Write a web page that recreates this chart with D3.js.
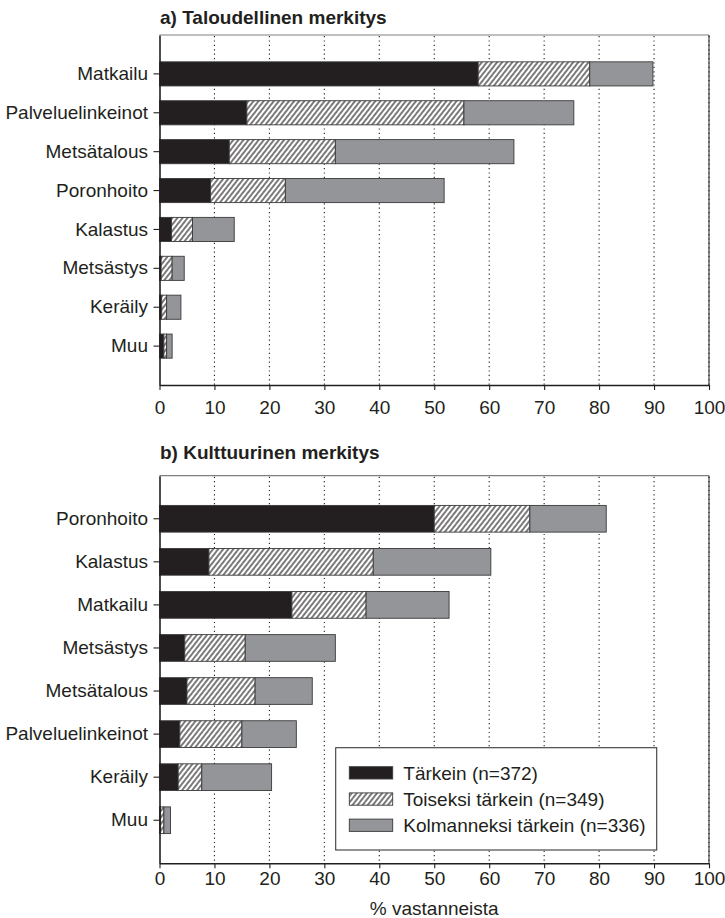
<!DOCTYPE html>
<html>
<head>
<meta charset="utf-8">
<script src="https://cdn.jsdelivr.net/npm/d3@7"></script>
<style>
  html, body { margin: 0; padding: 0; background: #fff; }
  svg { display: block; }
  text { font-family: "Liberation Sans", Arial, sans-serif; fill: #231f20; }
</style>
</head>
<body>
<svg id="chart" width="725" height="918"></svg>
<script>
// ---------- DATA ----------
const titleA = "a) Taloudellinen merkitys";
const titleB = "b) Kulttuurinen merkitys";
const xLabel = "% vastanneista";
const xTicks = [0, 10, 20, 30, 40, 50, 60, 70, 80, 90, 100];
const seriesNames = ["Tärkein (n=372)", "Toiseksi tärkein (n=349)", "Kolmanneksi tärkein (n=336)"];

const catsA = ["Matkailu", "Palveluelinkeinot", "Metsätalous", "Poronhoito", "Kalastus", "Metsästys", "Keräily", "Muu"];
const tarkeinA      = [58.0, 15.9, 12.7,  9.3, 2.2, 0.3, 0.4, 0.8];
const toiseksiA     = [20.3, 39.5, 19.3, 13.6, 3.8, 2.0, 0.9, 0.5];
const kolmanneksiA  = [11.5, 20.0, 32.5, 28.9, 7.6, 2.2, 2.6, 1.0];

const catsB = ["Poronhoito", "Kalastus", "Matkailu", "Metsästys", "Metsätalous", "Palveluelinkeinot", "Keräily", "Muu"];
const tarkeinB      = [50.0,  9.0, 24.1,  4.6,  5.0,  3.7,  3.4, 0.2];
const toiseksiB     = [17.4, 29.9, 13.5, 11.0, 12.4, 11.3,  4.3, 0.6];
const kolmanneksiB  = [13.9, 21.4, 15.1, 16.4, 10.4,  9.9, 12.7, 1.2];

// ---------- DRAW ----------
const svg = d3.select("#chart");
const ink = "#231f20";
const fills = [ink, "url(#hatch)", "#939598"];
const keys = ["t1", "t2", "t3"];
const fs = 19;

const defs = svg.append("defs");
const pat = defs.append("pattern")
  .attr("id", "hatch")
  .attr("patternUnits", "userSpaceOnUse")
  .attr("width", 4).attr("height", 4)
  .attr("patternTransform", "rotate(38)");
pat.append("rect").attr("width", 4).attr("height", 4).attr("fill", "#fff");
pat.append("line").attr("x1", 2).attr("y1", 0).attr("x2", 2).attr("y2", 4)
  .attr("stroke", ink).attr("stroke-width", 1.2);

const left = 159.5, right = 709;
const x = d3.scaleLinear().domain([0, 100]).range([left, right]);

function panel(cats, s1, s2, s3, top, bottom, title, titleY, labelOffset) {
  const g = svg.append("g");
  const pIn = 0.38;
  const y = d3.scaleBand().domain(cats).range([top, bottom])
    .paddingInner(pIn).paddingOuter((1 + pIn) / 2);

  // title
  g.append("text").attr("x", 160).attr("y", titleY)
    .attr("font-size", fs).attr("font-weight", "bold").text(title);

  // frame: top (gray) and right
  g.append("line").attr("x1", left).attr("x2", right).attr("y1", top).attr("y2", top)
    .attr("stroke", "#808080").attr("stroke-width", 1.2);
  g.append("line").attr("x1", right).attr("x2", right).attr("y1", top).attr("y2", bottom)
    .attr("stroke", "#444").attr("stroke-width", 1.2);

  // dotted gridlines
  g.selectAll("line.grid").data(xTicks.filter(t => t > 0))
    .join("line").attr("class", "grid")
    .attr("x1", d => x(d)).attr("x2", d => x(d))
    .attr("y1", top + 1).attr("y2", bottom)
    .attr("stroke", ink).attr("stroke-width", 1.1)
    .attr("stroke-dasharray", "1.2,3.2");

  // stacked bars
  const rows = cats.map((c, i) => ({ cat: c, t1: s1[i], t2: s2[i], t3: s3[i] }));
  const stacked = d3.stack().keys(keys)(rows);
  stacked.forEach((layer, k) => {
    g.append("g").selectAll("rect").data(layer).join("rect")
      .attr("x", d => x(d[0]))
      .attr("width", d => x(d[1]) - x(d[0]))
      .attr("y", d => y(d.data.cat))
      .attr("height", y.bandwidth())
      .attr("fill", fills[k])
      .attr("stroke", "#3a3a3a").attr("stroke-width", 0.9);
  });

  // y axis
  const ya = g.append("g").attr("transform", `translate(${left},0)`)
    .call(d3.axisLeft(y).tickSize(6).tickPadding(5.5).tickSizeOuter(0));
  ya.select(".domain").attr("stroke", ink).attr("stroke-width", 1.6);
  ya.selectAll(".tick line").attr("stroke", ink).attr("stroke-width", 1.1);
  ya.selectAll(".tick text").attr("font-size", fs).attr("font-family", null).attr("fill", ink);

  // x axis
  const xa = g.append("g").attr("transform", `translate(0,${bottom})`)
    .call(d3.axisBottom(x).tickValues(xTicks).tickSize(5).tickPadding(labelOffset).tickSizeOuter(0));
  xa.select(".domain").attr("stroke", ink).attr("stroke-width", 1.6);
  xa.selectAll(".tick line").attr("stroke", ink).attr("stroke-width", 1.1);
  xa.selectAll(".tick text").attr("font-size", fs).attr("font-family", null).attr("fill", ink);
  return g;
}

panel(catsA, tarkeinA, toiseksiA, kolmanneksiA, 35, 385, titleA, 24, 11);
panel(catsB, tarkeinB, toiseksiB, kolmanneksiB, 475.7, 863.3, titleB, 459, 3);

// x axis title
svg.append("text").attr("x", (left + right) / 2).attr("y", 915)
  .attr("text-anchor", "middle").attr("font-size", fs).text(xLabel);

// legend
const lg = svg.append("g");
lg.append("rect").attr("x", 335.7).attr("y", 747.7).attr("width", 321).attr("height", 102.3)
  .attr("fill", "#fff").attr("stroke", "#3a3a3a").attr("stroke-width", 1.1);
const items = lg.selectAll("g.item").data(seriesNames).join("g").attr("class", "item")
  .attr("transform", (d, i) => `translate(349.3,${766.7 + i * 26.2})`);
items.append("rect").attr("width", 43.4).attr("height", 12.3)
  .attr("fill", (d, i) => fills[i]).attr("stroke", "#3a3a3a").attr("stroke-width", 0.9);
items.append("text").attr("x", 54).attr("y", 12.8).attr("font-size", fs).text(d => d);
</script>
</body>
</html>
